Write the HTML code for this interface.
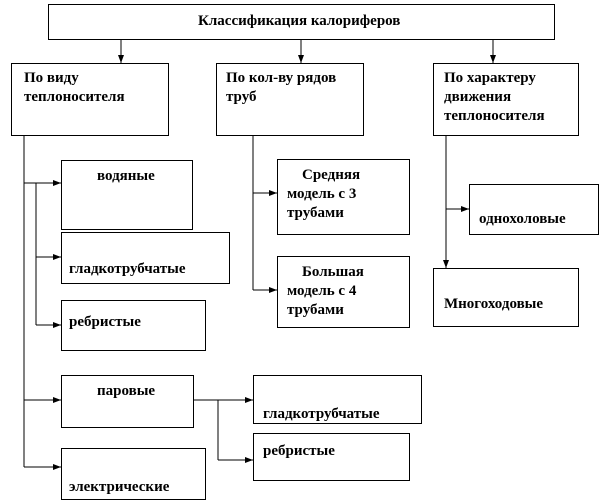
<!DOCTYPE html>
<html><head><meta charset="utf-8"><style>
body{margin:0;width:603px;height:498px;background:#fff;overflow:hidden;position:relative;font-family:"Liberation Serif","Noto Serif CJK SC",serif;font-weight:bold;font-size:15px;color:#000;letter-spacing:0}
.b{position:absolute;border:1px solid #000;box-sizing:border-box;background:#fff}
.t{position:absolute;white-space:nowrap;line-height:19px}
svg{position:absolute;left:0;top:0}
</style></head><body>
<svg width="603" height="498">
<defs><marker id="a" markerWidth="8" markerHeight="6" refX="8" refY="3" orient="auto" markerUnits="userSpaceOnUse"><path d="M0,0L8,3L0,6z" fill="#000"/></marker></defs>
<g stroke="#000" stroke-width="1" fill="none">
<line x1="121" y1="39" x2="121" y2="63" marker-end="url(#a)"/>
<line x1="301" y1="39" x2="301" y2="63" marker-end="url(#a)"/>
<line x1="493" y1="39" x2="493" y2="63" marker-end="url(#a)"/>
<line x1="24" y1="135" x2="24" y2="467"/>
<line x1="36" y1="183" x2="36" y2="325"/>
<line x1="24" y1="183" x2="61" y2="183" marker-end="url(#a)"/>
<line x1="36" y1="257" x2="61" y2="257" marker-end="url(#a)"/>
<line x1="36" y1="325" x2="61" y2="325" marker-end="url(#a)"/>
<line x1="24" y1="400" x2="61" y2="400" marker-end="url(#a)"/>
<line x1="24" y1="467" x2="61" y2="467" marker-end="url(#a)"/>
<line x1="193" y1="400" x2="253" y2="400" marker-end="url(#a)"/>
<line x1="218" y1="400" x2="218" y2="460"/>
<line x1="218" y1="460" x2="253" y2="460" marker-end="url(#a)"/>
<line x1="253" y1="135" x2="253" y2="290"/>
<line x1="253" y1="193" x2="277" y2="193" marker-end="url(#a)"/>
<line x1="253" y1="290" x2="277" y2="290" marker-end="url(#a)"/>
<line x1="446" y1="135" x2="446" y2="268" marker-end="url(#a)"/>
<line x1="446" y1="209" x2="469" y2="209" marker-end="url(#a)"/>
</g></svg>
<div class="b" style="left:48px;top:4px;width:507px;height:36px"></div><div class="t" style="left:198px;top:12px">Классификация калориферов</div>
<div class="b" style="left:11px;top:63px;width:158px;height:73px"></div><div class="t" style="left:24px;top:69px">По виду<br>теплоносителя</div>
<div class="b" style="left:216px;top:63px;width:148px;height:73px"></div><div class="t" style="left:226px;top:69px">По кол-ву рядов<br>труб</div>
<div class="b" style="left:433px;top:63px;width:146px;height:73px"></div><div class="t" style="left:444px;top:69px">По характеру<br>движения<br>теплоносителя</div>
<div class="b" style="left:61px;top:160px;width:132px;height:70px"></div><div class="t" style="left:97px;top:167px">водяные</div>
<div class="b" style="left:61px;top:232px;width:169px;height:52px"></div><div class="t" style="left:69px;top:260px">гладкотрубчатые</div>
<div class="b" style="left:61px;top:300px;width:145px;height:51px"></div><div class="t" style="left:69px;top:313px">ребристые</div>
<div class="b" style="left:61px;top:375px;width:133px;height:53px"></div><div class="t" style="left:97px;top:382px">паровые</div>
<div class="b" style="left:61px;top:448px;width:145px;height:52px"></div><div class="t" style="left:69px;top:478px">электрические</div>
<div class="b" style="left:253px;top:375px;width:169px;height:49px"></div><div class="t" style="left:263px;top:405px">гладкотрубчатые</div>
<div class="b" style="left:253px;top:433px;width:157px;height:48px"></div><div class="t" style="left:263px;top:442px">ребристые</div>
<div class="b" style="left:277px;top:159px;width:133px;height:76px"></div><div class="t" style="left:287px;top:166px">&nbsp;&nbsp;&nbsp;&nbsp;Средняя<br>модель с 3<br>трубами</div>
<div class="b" style="left:277px;top:256px;width:133px;height:72px"></div><div class="t" style="left:287px;top:263px">&nbsp;&nbsp;&nbsp;&nbsp;Большая<br>модель с 4<br>трубами</div>
<div class="b" style="left:469px;top:184px;width:130px;height:51px"></div><div class="t" style="left:479px;top:210px">однохоловые</div>
<div class="b" style="left:433px;top:268px;width:146px;height:59px"></div><div class="t" style="left:444px;top:295px">Многоходовые</div>
</body></html>
